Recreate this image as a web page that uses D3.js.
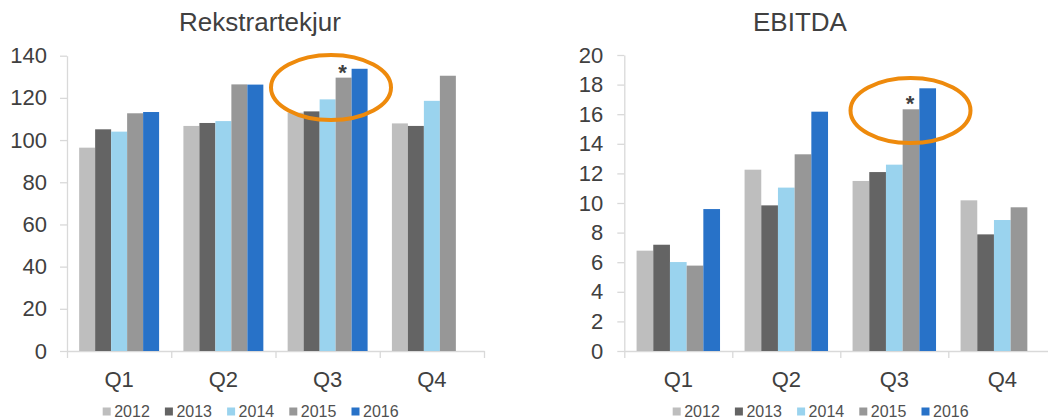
<!DOCTYPE html>
<html>
<head>
<meta charset="utf-8">
<script src="https://cdn.jsdelivr.net/npm/d3@7"></script>
<style>
  html, body { margin: 0; padding: 0; background: #fff; }
  svg { display: block; font-family: "Liberation Sans", Arial, sans-serif; }
</style>
</head>
<body>
<svg id="chart" width="1048" height="419"></svg>
<script>
// ---- data ----
const quarters = ["Q1", "Q2", "Q3", "Q4"];
const years = ["2012", "2013", "2014", "2015", "2016"];
const yearColors = ["#BEBEBE", "#646464", "#9AD3EE", "#979797", "#2872C8"];

const revenueTitle = "Rekstrartekjur";
const revenue2012 = [96.4, 106.7, 113.0, 107.9];
const revenue2013 = [105.1, 108.1, 113.6, 106.7];
const revenue2014 = [104.0, 109.0, 119.3, 118.6];
const revenue2015 = [112.7, 126.4, 129.6, 130.5];
const revenue2016 = [113.3, 126.3, 133.8, null];
const revenueTicks = [0, 20, 40, 60, 80, 100, 120, 140];

const ebitdaTitle = "EBITDA";
const ebitda2012 = [6.78, 12.25, 11.49, 10.18];
const ebitda2013 = [7.18, 9.84, 12.09, 7.88];
const ebitda2014 = [6.01, 11.04, 12.59, 8.85];
const ebitda2015 = [5.77, 13.29, 16.33, 9.71];
const ebitda2016 = [9.59, 16.17, 17.75, null];
const ebitdaTicks = [0, 2, 4, 6, 8, 10, 12, 14, 16, 18, 20];

// highlighted bar (asterisk) : quarter Q3, year 2015
const markQuarter = "Q3";
const markYear = "2015";

const svg = d3.select("#chart");

function drawPanel(cfg) {
  const series = cfg.series;
  const g = svg.append("g");
  const x0 = d3.scaleBand().domain(quarters).range([cfg.left, cfg.right]).padding(0);
  const x1 = d3.scaleBand().domain(years).range([0, x0.bandwidth()])
    .paddingInner(0).paddingOuter(cfg.outerPad);
  const y = d3.scaleLinear().domain([0, cfg.max]).range([cfg.bottom, cfg.top]);

  // y axis
  const yAxis = g.append("g").attr("transform", `translate(${cfg.left},0)`)
    .call(d3.axisLeft(y).tickValues(cfg.ticks).tickSize(7).tickSizeOuter(0).tickPadding(cfg.tickPad));
  yAxis.select(".domain").attr("stroke", "#D9D9D9").attr("stroke-width", 1.3);
  yAxis.selectAll(".tick line").attr("stroke", "#D9D9D9").attr("stroke-width", 1.3);
  yAxis.selectAll(".tick text").attr("fill", "#404040").style("font-size", "22px")
    .style("font-family", "'Liberation Sans', Arial, sans-serif");

  // x axis boundary ticks
  const xb = d3.scaleLinear().domain([0, quarters.length]).range([cfg.left, cfg.right]);
  const xAxisB = g.append("g").attr("transform", `translate(0,${cfg.bottom})`)
    .call(d3.axisBottom(xb).ticks(quarters.length).tickFormat("").tickSize(7).tickSizeOuter(0));
  xAxisB.select(".domain").attr("stroke", "#D9D9D9").attr("stroke-width", 1.3);
  xAxisB.selectAll(".tick line").attr("stroke", "#D9D9D9").attr("stroke-width", 1.3);

  // x labels
  const xAxis = g.append("g").attr("transform", `translate(0,${cfg.bottom})`)
    .call(d3.axisBottom(x0).tickSize(0).tickPadding(20.5));
  xAxis.select(".domain").remove();
  xAxis.selectAll(".tick text").attr("fill", "#404040").style("font-size", "22px")
    .style("font-family", "'Liberation Sans', Arial, sans-serif");

  // bars
  years.forEach((yr, i) => {
    const vals = series[i];
    g.append("g").selectAll("rect")
      .data(quarters.map((q, k) => ({ q, v: vals[k] })).filter(d => d.v != null))
      .join("rect")
      .attr("x", d => x0(d.q) + x1(yr))
      .attr("y", d => y(d.v))
      .attr("width", x1.bandwidth())
      .attr("height", d => y(0) - y(d.v))
      .attr("fill", yearColors[i]);
  });

  // asterisk
  const mi = years.indexOf(markYear);
  const mv = series[mi][quarters.indexOf(markQuarter)];
  g.append("text")
    .attr("x", x0(markQuarter) + x1(markYear) + x1.bandwidth() / 2 - 1)
    .attr("y", y(mv) + 2)
    .attr("text-anchor", "middle")
    .attr("fill", "#404040")
    .style("font-size", "22px").style("font-weight", "bold")
    .text("*");

  // ellipse highlight
  g.append("ellipse")
    .attr("cx", cfg.ellipse[0]).attr("cy", cfg.ellipse[1])
    .attr("rx", 60).attr("ry", 32.5)
    .attr("fill", "none").attr("stroke", "#EE8A0C").attr("stroke-width", 4);

  // title
  g.append("text")
    .attr("x", cfg.titleX).attr("y", 31)
    .attr("text-anchor", "middle")
    .attr("fill", "#404040")
    .style("font-size", "26px")
    .text(cfg.title);

  // legend
  const lg = g.append("g").attr("transform", `translate(${cfg.legendX},0)`);
  years.forEach((yr, i) => {
    const it = lg.append("g").attr("transform", `translate(${i * 62.2},0)`);
    it.append("rect").attr("x", 0).attr("y", 407.5).attr("width", 8).attr("height", 8)
      .attr("fill", yearColors[i]);
    it.append("text").attr("x", 11.5).attr("y", 417)
      .attr("fill", "#505050").style("font-size", "16px").text(yr);
  });
}

drawPanel({
  title: revenueTitle, titleX: 260,
  series: [revenue2012, revenue2013, revenue2014, revenue2015, revenue2016],
  ticks: revenueTicks, max: 140,
  left: 67, right: 484, top: 55.7, bottom: 351, outerPad: 0.76, tickPad: 13,
  ellipse: [331, 87.5], legendX: 102.7
});

drawPanel({
  title: ebitdaTitle, titleX: 800,
  series: [ebitda2012, ebitda2013, ebitda2014, ebitda2015, ebitda2016],
  ticks: ebitdaTicks, max: 20,
  left: 624.3, right: 1056.3, top: 55, bottom: 351, outerPad: 0.735, tickPad: 14,
  ellipse: [910.5, 110.5], legendX: 672.7
});
</script>
</body>
</html>
